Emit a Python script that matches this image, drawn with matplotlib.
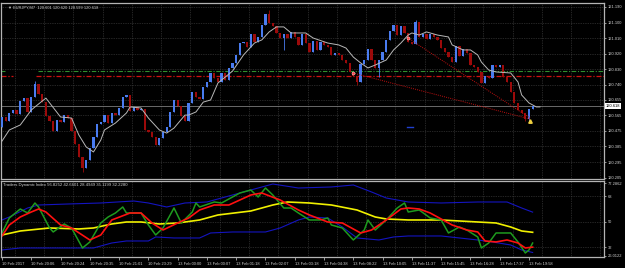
import matplotlib
matplotlib.use("Agg")
import matplotlib.pyplot as plt
from matplotlib.transforms import blended_transform_factory

plt.rcParams["font.family"] = ["Liberation Sans", "DejaVu Sans"]

# ---- main window data (EURJPY, M7) ----
first_open = 120.497
closes = [
    120.555, 120.532, 120.578, 120.595, 120.572, 120.647, 120.664, 120.584, 120.670, 120.745,
    120.688, 120.641, 120.561, 120.532, 120.474, 120.537, 120.526, 120.566, 120.549, 120.474,
    120.399, 120.324, 120.260, 120.307, 120.376, 120.439, 120.514, 120.526, 120.566, 120.520,
    120.578, 120.566, 120.607, 120.670, 120.682, 120.589, 120.613, 120.595, 120.601, 120.480,
    120.468, 120.439, 120.393, 120.434, 120.468, 120.497, 120.584, 120.653, 120.618, 120.561,
    120.532, 120.636, 120.699, 120.670, 120.659, 120.728, 120.757, 120.809, 120.780, 120.757,
    120.809, 120.768, 120.838, 120.867, 120.913, 120.982, 120.988, 120.959, 121.034, 120.988,
    121.017, 121.086, 121.150, 121.098, 121.080, 121.040, 121.011, 121.034, 121.011, 121.046,
    121.017, 120.971, 121.034, 120.982, 120.930, 120.994, 120.942, 120.988, 120.971, 120.959,
    120.913, 120.924, 120.913, 120.884, 120.867, 120.815, 120.792, 120.757, 120.861, 120.884,
    120.947, 120.884, 120.838, 120.884, 120.930, 121.000, 121.051, 121.086, 121.028, 121.080,
    121.040, 120.988, 120.976, 121.103, 121.017, 121.034, 121.005, 121.034, 121.017, 121.000,
    120.953, 120.930, 120.901, 120.872, 120.965, 120.907, 120.947, 120.924, 120.855, 120.844,
    120.815, 120.751, 120.792, 120.780, 120.855, 120.844, 120.855, 120.786, 120.757, 120.699,
    120.636, 120.595, 120.578, 120.543, 120.601, 120.618,
]
wick_high = {9: 120.762, 73: 121.173, 113: 121.115}
wick_low = {22: 120.237, 77: 120.942, 97: 120.740, 103: 120.786, 143: 120.532, 144: 120.526}

ma_bar = [0, 2, 5, 8, 9, 12, 16, 19, 21, 23, 25, 27, 28, 31, 34, 35, 38, 40, 43, 45, 47, 50,
          51, 53, 55, 57, 59, 63, 66, 69, 71, 73, 75, 77, 79, 83, 85, 89, 92, 94, 96, 98, 100,
          102, 105, 107, 109, 111, 112, 114, 116, 119, 122, 123, 126, 128, 130, 131, 133, 135,
          139, 141, 142, 144, 146, 147]
ma_price = [120.416, 120.480, 120.509, 120.595, 120.613, 120.664, 120.555, 120.549, 120.451,
            120.382, 120.353, 120.422, 120.480, 120.520, 120.578, 120.613, 120.607, 120.549,
            120.480, 120.462, 120.491, 120.566, 120.566, 120.584, 120.641, 120.653, 120.751,
            120.820, 120.913, 120.982, 121.000, 121.046, 121.075, 121.075, 121.040, 121.040,
            121.011, 120.982, 120.971, 120.953, 120.901, 120.867, 120.838, 120.855, 120.884,
            120.942, 120.982, 121.028, 121.040, 121.028, 121.046, 121.028, 121.017, 120.971,
            120.942, 120.942, 120.913, 120.872, 120.826, 120.815, 120.809, 120.757, 120.682,
            120.636, 120.613, 120.613]

level_green = 120.820
level_red = 120.792
bid_price = 120.618
trend_a = ([95.9, 144.3], [120.809, 120.543])
trend_b = ([110.9, 144.3], [121.011, 120.549])

price_ticks = [121.190, 121.100, 121.010, 120.920, 120.830, 120.740, 120.655,
               120.565, 120.475, 120.385, 120.295, 120.205]

# ---- Traders Dynamic Index ----
up_bar = [0, 2, 7, 10, 18, 27, 36, 40, 45, 50, 56, 63, 70, 74, 81, 90, 96, 101, 105, 111,
          120, 130, 138, 142, 145]
up_val = [51.31, 53.41, 59.73, 61.84, 62.54, 63.25, 64.65, 63.25, 60.44, 63.25, 63.95, 68.86,
          73.78, 76.59, 73.78, 74.50, 75.90, 70.97, 66.76, 63.95, 63.25, 63.95, 63.95, 59.73,
          56.83]
lo_bar = [0, 5, 18, 25, 30, 34, 40, 42, 47, 54, 57, 63, 72, 76, 81, 84, 89, 93, 97, 103,
          107, 111, 120, 125, 130, 134, 139, 142, 145]
lo_val = [30.24, 31.64, 31.64, 31.64, 35.15, 36.56, 36.56, 39.37, 38.67, 38.67, 42.18, 42.88,
          42.88, 45.69, 51.31, 53.41, 52.71, 46.39, 38.67, 37.26, 39.37, 40.07, 40.07, 38.67,
          37.26, 35.86, 33.75, 30.24, 28.49]
mid_bar = [0, 5, 13, 21, 25, 30, 34, 38, 43, 48, 52, 54, 59, 68, 74, 78, 84, 90, 97, 102,
           105, 111, 120, 130, 135, 139, 142, 145]
mid_val = [40.77, 43.58, 45.69, 44.99, 45.69, 48.50, 49.90, 49.90, 48.50, 49.20, 50.60, 51.31,
           54.82, 57.63, 61.84, 63.95, 63.25, 61.84, 58.33, 53.41, 52.01, 51.31, 51.31, 49.90,
           49.20, 46.39, 43.58, 42.66]
sig_bar = [0, 2, 5, 8, 10, 12, 16, 19, 24, 27, 30, 35, 38, 41, 44, 48, 51, 54, 58, 62, 68,
           71, 76, 81, 84, 89, 93, 98, 101, 105, 109, 111, 114, 117, 120, 123, 127, 130, 132,
           135, 138, 141, 143, 145]
sig_val = [40.07, 47.80, 53.41, 56.92, 59.03, 56.92, 47.80, 45.69, 37.26, 40.77, 51.31, 56.22,
           56.22, 49.20, 44.28, 49.20, 52.71, 58.33, 61.84, 61.84, 68.86, 70.27, 65.35, 58.33,
           54.82, 49.90, 49.20, 42.18, 44.28, 51.31, 59.03, 59.73, 59.03, 56.22, 52.01, 47.80,
           44.28, 42.88, 36.56, 35.86, 37.26, 35.15, 31.64, 32.23]
rsi_bar = [0, 2, 5, 7, 9, 10, 13, 14, 17, 19, 22, 24, 27, 29, 31, 33, 34, 38, 40, 42, 44, 47,
           49, 52, 53, 54, 58, 60, 65, 68, 70, 72, 74, 77, 79, 81, 84, 87, 89, 90, 93, 96, 99,
           100, 102, 105, 108, 110, 111, 114, 117, 120, 122, 125, 127, 130, 131, 133, 135, 139,
           141, 143, 144, 145]
rsi_val = [42.18, 52.71, 59.03, 56.22, 63.25, 60.44, 45.69, 42.88, 48.50, 45.69, 31.64, 35.86,
           49.20, 53.41, 56.22, 60.44, 56.22, 56.22, 47.80, 40.77, 45.69, 59.73, 49.20, 56.92,
           63.25, 60.44, 63.95, 63.25, 70.27, 72.37, 67.46, 73.78, 68.86, 59.73, 59.73, 56.22,
           51.31, 51.31, 52.71, 47.80, 45.69, 37.26, 44.28, 51.31, 44.28, 51.31, 59.73, 63.25,
           56.92, 58.33, 52.71, 51.31, 42.18, 46.39, 44.28, 39.37, 31.64, 35.15, 42.18, 42.18,
           35.86, 28.13, 30.24, 35.12]

time_bars = list(range(0, 145, 8))
time_labels = ["10 Feb 2017", "10 Feb 20:06", "10 Feb 20:24", "10 Feb 20:35", "10 Feb 21:01",
               "10 Feb 23:29", "13 Feb 00:00", "13 Feb 00:07", "13 Feb 01:18", "13 Feb 02:07",
               "13 Feb 03:18", "13 Feb 04:38", "13 Feb 08:22", "13 Feb 10:05", "13 Feb 11:37",
               "13 Feb 15:45", "13 Feb 16:28", "13 Feb 17:37", "13 Feb 19:58"]
grid_bars = [3.5 + 8 * k for k in range(21)]

BG = "black"
FG = "#d0d0d0"
FRAME = "#b4b4b4"
GRID = "#4a4a4a"
BULL = "#4a7cf0"
BEAR = "#9c0a0a"
FS = 2.9

fig = plt.figure(figsize=(6.25, 2.68), dpi=100, facecolor=BG)
W, H = 625.0, 268.0
ax = fig.add_axes([1 / W, 1 - 179 / H, 603 / W, 176 / H], facecolor=BG)
ax2 = fig.add_axes([1 / W, 1 - 257 / H, 603 / W, 76 / H], facecolor=BG)

xlim = (-0.27, 164.5)

# grid
for g in grid_bars:
    ax.axvline(g, color=GRID, lw=0.5, ls=(0, (1, 1.5)), zorder=0)
    ax2.axvline(g, color=GRID, lw=0.5, ls=(0, (1, 1.5)), zorder=0)
for p in price_ticks[:-1]:
    ax.axhline(p, color=GRID, lw=0.5, ls=(0, (1, 1.5)), zorder=0)
for v in [68, 50, 32]:
    ax2.axhline(v, color=GRID, lw=0.5, ls=(0, (1, 1.5)), zorder=0)

# levels
ax.plot([xlim[0], 0.8], [level_green] * 2, color="#2f8f2f", lw=0.8, ls=(0, (4, 1.5, 1, 1.5)))
ax.plot([9.8, xlim[1]], [level_green] * 2, color="#2f8f2f", lw=0.8, ls=(0, (4, 1.5, 1, 1.5)))
ax.plot([xlim[0], 3.0], [level_red] * 2, color="#d01010", lw=0.9, ls=(0, (4, 1.5, 1, 1.5)))
ax.plot([9.3, xlim[1]], [level_red] * 2, color="#d01010", lw=0.9, ls=(0, (4, 1.5, 1, 1.5)))
ax.axhline(bid_price, color="#7a7a7a", lw=0.6, zorder=1)

# candles
opens = [first_open] + closes[:-1]
for i, (o, c) in enumerate(zip(opens, closes)):
    col = BULL if c >= o else BEAR
    lo, hi = min(o, c), max(o, c)
    ax.bar(i, max(hi - lo, 0.002), bottom=lo, width=0.62, color=col, lw=0, zorder=3)
    top = wick_high.get(i, hi)
    bot = wick_low.get(i, lo)
    ax.vlines(i, bot, top, color=col, lw=0.6, zorder=2)

ax.plot(ma_bar, ma_price, color="#b8b8b8", lw=0.7, zorder=4)

for tx, ty in (trend_a, trend_b):
    ax.plot(tx, ty, color="#c01010", lw=0.7, ls=(0, (1, 1.2)), zorder=4)
ax.plot(trend_a[0][0], trend_a[1][0], "o", ms=2.2, mfc="#ff4040", mec="white", mew=0.3, zorder=5)
ax.plot(trend_b[0][0], trend_b[1][0], "o", ms=2.2, mfc="#ff4040", mec="white", mew=0.3, zorder=5)
ax.plot(144.4, 120.530, marker="^", ms=2.5, color="#f0d040", zorder=5)
ax.plot([110.8, 112.2], [120.497] * 2, color="#2040d0", lw=1.0)

ax.set_xlim(*xlim)
ax.set_ylim(120.197, 121.213)
ax.set_xticks([])
ax.yaxis.tick_right()
ax.set_yticks(price_ticks)
ax.set_yticklabels(["%.3f" % p for p in price_ticks])
ax.tick_params(axis="y", labelsize=FS, colors=FG, length=1.5, width=0.5, pad=1)
for s in ax.spines.values():
    s.set_color(FRAME)
    s.set_linewidth(0.9)

tr = blended_transform_factory(ax.transAxes, ax.transData)
ax.text(1.003, bid_price, "%.3f" % bid_price, transform=tr, fontsize=FS, color="black",
        va="center", ha="left", bbox=dict(boxstyle="square,pad=0.15", fc="white", ec="none"))
ax.text(0.012, 0.985, "\u25bc EURJPY,M7  120.601 120.620 120.599 120.618", transform=ax.transAxes,
        fontsize=FS, color=FG, va="top", ha="left")

# indicator
ax2.plot(up_bar, up_val, color="#1414c0", lw=0.8)
ax2.plot(lo_bar, lo_val, color="#1414c0", lw=0.8)
ax2.plot(mid_bar, mid_val, color="#f0f000", lw=1.2)
ax2.plot(rsi_bar, rsi_val, color="#1e9a1e", lw=1.1)
ax2.plot(sig_bar, sig_val, color="#ff1010", lw=1.2)
ax2.set_xlim(*xlim)
ax2.set_ylim(25.3, 78.7)
ax2.yaxis.tick_right()
ind_ticks = [77.2862, 68, 50, 32, 26.0122]
ax2.set_yticks(ind_ticks)
ax2.set_yticklabels(["77.2862", "68", "50", "32", "26.0122"])
ax2.tick_params(axis="y", labelsize=FS, colors=FG, length=1.5, width=0.5, pad=1)
ax2.set_xticks(time_bars)
ax2.set_xticklabels(time_labels, ha="left")
ax2.tick_params(axis="x", labelsize=FS, colors=FG, length=2, width=0.5, pad=1.5)
for s in ax2.spines.values():
    s.set_color(FRAME)
    s.set_linewidth(0.9)
ax2.text(0.004, 0.97, "Traders Dynamic Index 56.8252 42.6601 28.4949 35.1199 32.2280",
         transform=ax2.transAxes, fontsize=3.1, color=FG, va="top", ha="left")

fig.savefig("out.png", dpi=100, facecolor=BG)
